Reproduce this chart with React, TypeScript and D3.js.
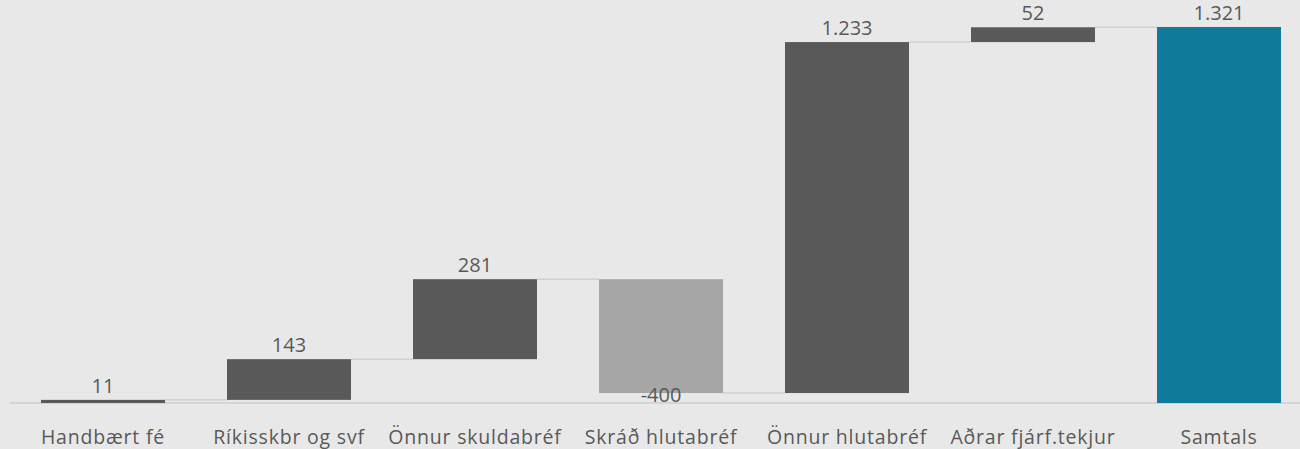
import React from "react";
import * as d3 from "d3";

const categories = ["Handbært fé", "Ríkisskbr og svf", "Önnur skuldabréf", "Skráð hlutabréf", "Önnur hlutabréf", "Aðrar fjárf.tekjur", "Samtals"];
const deltas = [11, 143, 281, -400, 1233, 52];
const totalValue = 1321;
const valueLabels = ["11", "143", "281", "-400", "1.233", "52", "1.321"];

const W = 1300, H = 449;

export default function App() {
  const x = d3.scaleBand<string>().domain(categories).range([10, 1312]).paddingInner(1 / 3).paddingOuter(1 / 6);
  const y = d3.scaleLinear().domain([0, 1321]).range([403, 27]);

  let cum = 0;
  const bars = categories.map((c, i) => {
    if (i === deltas.length) {
      return { c, start: 0, end: totalValue, kind: "total", label: valueLabels[i] };
    }
    const start = cum;
    cum += deltas[i];
    return { c, start, end: cum, kind: deltas[i] < 0 ? "neg" : "pos", label: valueLabels[i] };
  });
  const color = (k: string) => (k === "total" ? "#0f7a9b" : k === "neg" ? "#a6a6a6" : "#595959");
  const bw = x.bandwidth();

  return (
    <svg width={W} height={H} style={{ position: "absolute", left: 0, top: 0, display: "block" }}>
      <rect width={W} height={H} fill="#e8e8e8" />
      <line x1={10} x2={1300} y1={y(0)} y2={y(0)} stroke="#d4d4d4" strokeWidth={2} />
      {bars.slice(0, -1).map((b, i) => {
        const nx = x(bars[i + 1].c)!;
        return (
          <line key={"c" + i} x1={x(b.c)! + bw} x2={nx} y1={y(b.end)} y2={y(b.end)} stroke="#d0d0d0" strokeWidth={1.5} />
        );
      })}
      {bars.map((b) => {
        const top = y(Math.max(b.start, b.end));
        const bot = y(Math.min(b.start, b.end));
        return (
          <rect key={b.c} x={x(b.c)} y={top} width={bw} height={Math.max(bot - top, 2)} fill={color(b.kind)} />
        );
      })}
      {bars.map((b) => {
        const cx = x(b.c)! + bw / 2;
        const ly = b.kind === "neg" ? y(b.end) + 9 : y(b.end) - 7;
        return (
          <text key={"l" + b.c} x={cx} y={ly} textAnchor="middle" fontFamily="Open Sans" fontSize={20} fill="#595959">
            {b.label}
          </text>
        );
      })}
      {categories.map((c) => (
        <text key={"t" + c} x={x(c)! + bw / 2} y={444} textAnchor="middle" fontFamily="Open Sans" fontSize={19.5} letterSpacing={0.8} fill="#595959">
          {c}
        </text>
      ))}
    </svg>
  );
}
